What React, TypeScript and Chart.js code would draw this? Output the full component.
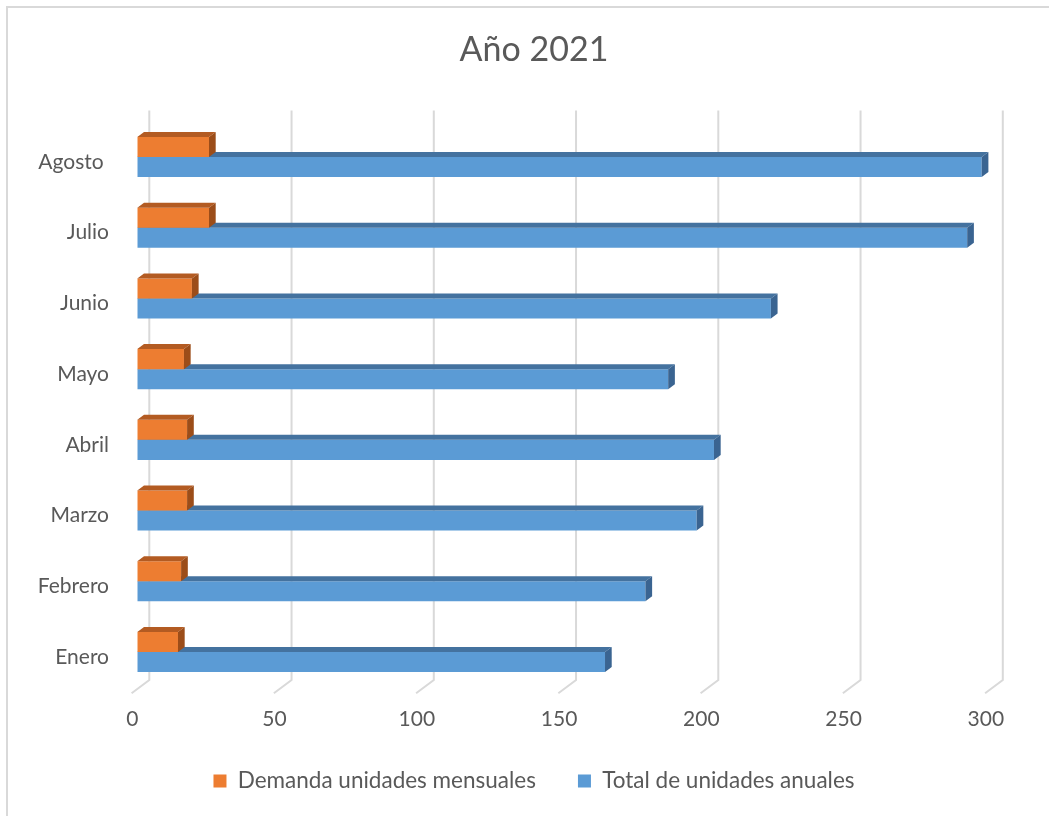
import React, { useEffect, useRef } from "react";
import { Chart, registerables } from "chart.js";

Chart.register(...registerables);

const titleText = "Año 2021";
const categories = ["Enero", "Febrero", "Marzo", "Abril", "Mayo", "Junio", "Julio", "Agosto "];
const demandaMensual = [14.3, 15.4, 17.5, 17.5, 16.4, 19.2, 25.2, 25.2];
const totalAnual = [164.4, 178.6, 196.6, 202.7, 186.6, 222.7, 291.7, 296.8];
const seriesNames = ["Demanda unidades mensuales", "Total de unidades anuales"];
const xTicks = [0, 50, 100, 150, 200, 250, 300];

const FONT = "Lato, 'Open Sans', sans-serif";
const TEXT = "#595959";
const DX = 6.7;
const DY = 5;
const faceColors = [
  { top: "#B35B22", side: "#9C4D19" },
  { top: "#44729F", side: "#3A6491" },
];

const excel3d = {
  id: "excel3d",
  beforeDatasetsDraw(chart: any) {
    const { ctx, chartArea, scales } = chart;
    const x = scales.x;
    ctx.save();
    ctx.strokeStyle = "#d9d9d9";
    ctx.lineWidth = 2;
    const topY = chartArea.top - 11;
    const botY = chartArea.bottom - 7.4;
    const frontY = botY + 13.3;
    x.ticks.forEach((t: any) => {
      const px = x.getPixelForValue(t.value) + 12;
      ctx.beginPath();
      ctx.moveTo(px, topY);
      ctx.lineTo(px, botY);
      ctx.lineTo(px - 17.7, frontY);
      ctx.stroke();
    });
    ctx.restore();
  },
  afterDatasetDraw(chart: any, args: any) {
    const { ctx } = chart;
    const c = faceColors[args.index];
    ctx.save();
    args.meta.data.forEach((el: any) => {
      const { x, y, base, height } = el.getProps(["x", "y", "base", "height"], true);
      const top = y - height / 2;
      const bottom = y + height / 2;
      ctx.fillStyle = c.top;
      ctx.beginPath();
      ctx.moveTo(base, top);
      ctx.lineTo(base + DX, top - DY);
      ctx.lineTo(x + DX, top - DY);
      ctx.lineTo(x, top);
      ctx.closePath();
      ctx.fill();
      ctx.fillStyle = c.side;
      ctx.beginPath();
      ctx.moveTo(x, top);
      ctx.lineTo(x + DX, top - DY);
      ctx.lineTo(x + DX, bottom - DY);
      ctx.lineTo(x, bottom);
      ctx.closePath();
      ctx.fill();
    });
    ctx.restore();
  },
};

export default function App() {
  const ref = useRef<HTMLCanvasElement>(null);
  useEffect(() => {
    if (!ref.current) return;
    const chart = new Chart(ref.current, {
      type: "bar",
      data: {
        labels: categories,
        datasets: [
          {
            label: seriesNames[0],
            data: demandaMensual,
            backgroundColor: "#ED7D31",
            borderWidth: 0,
            barPercentage: 1,
            categoryPercentage: 0.566,
          },
          {
            label: seriesNames[1],
            data: totalAnual,
            backgroundColor: "#5B9BD5",
            borderWidth: 0,
            barPercentage: 1,
            categoryPercentage: 0.566,
          },
        ],
      },
      options: {
        indexAxis: "y",
        animation: false,
        responsive: false,
        devicePixelRatio: 1,
        layout: { padding: { left: 0, right: -11, top: 0, bottom: 13.75 } },
        scales: {
          x: {
            min: 0,
            max: 300,
            afterBuildTicks: (scale: any) => {
              scale.ticks = xTicks.map((v) => ({ value: v }));
            },
            afterFit: (scale: any) => {
              scale.height = 40.35;
            },
            grid: { display: false, drawTicks: false },
            border: { display: false },
            ticks: {
              color: TEXT,
              font: { family: FONT, size: 21 },
              padding: 19,
              labelOffset: -5,
              maxRotation: 0,
              autoSkip: false,
            },
          },
          y: {
            reverse: true,
            afterFit: (scale: any) => {
              scale.width = 129.3;
            },
            grid: { display: false, drawTicks: false },
            border: { display: false },
            ticks: {
              color: TEXT,
              font: { family: FONT, size: 21 },
              padding: 28.3,
              labelOffset: 5,
            },
          },
          rightSpace: {
            type: "linear",
            axis: "y",
            position: "right",
            display: true,
            afterFit: (scale: any) => {
              scale.width = 69.2;
            },
            grid: { display: false, drawTicks: false },
            border: { display: false },
            ticks: { display: false },
          },
        },
        plugins: {
          title: {
            display: true,
            text: titleText,
            color: TEXT,
            font: { family: FONT, size: 34, weight: "normal" },
            padding: { top: 22.1, bottom: 50.7 },
          },
          legend: {
            position: "bottom",
            labels: {
              color: TEXT,
              font: { family: FONT, size: 22.5 },
              boxWidth: 13,
              boxHeight: 13,
              padding: 42,
            },
          },
          tooltip: { enabled: false },
        },
      },
      plugins: [excel3d],
    } as any);
    return () => chart.destroy();
  }, []);

  return (
    <div
      style={{
        position: "absolute",
        left: 6,
        top: 6,
        width: 1041,
        height: 808,
        borderLeft: "2px solid #d9d9d9",
        borderTop: "2px solid #d9d9d9",
        background: "#ffffff",
      }}
    >
      <canvas ref={ref} width={1041} height={808} style={{ display: "block" }} />
    </div>
  );
}
